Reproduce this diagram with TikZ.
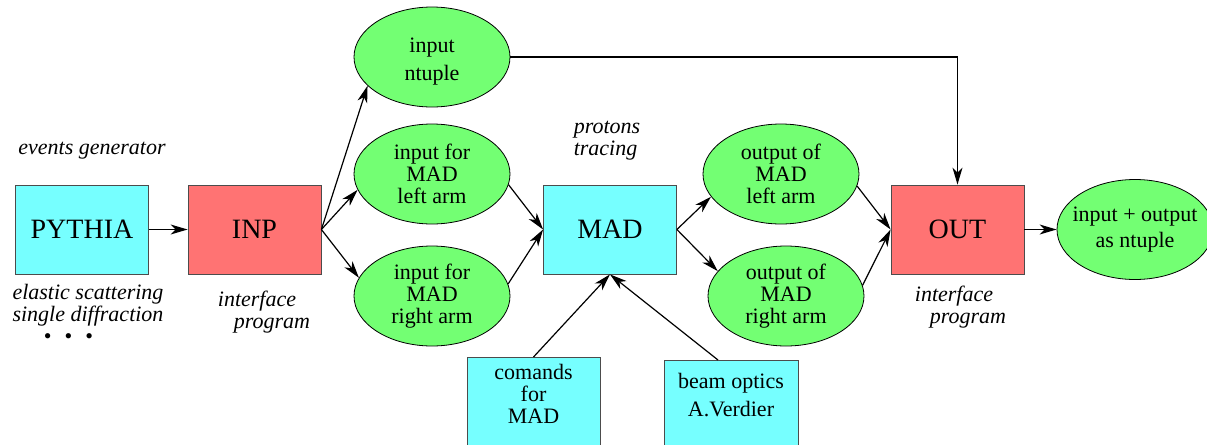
\documentclass[tikz,border=0pt]{standalone}
\usepackage{fontspec}
\setmainfont{Liberation Serif}
\usetikzlibrary{shapes.geometric,arrows.meta}
\definecolor{boxcyan}{RGB}{118,255,255}
\definecolor{boxred}{RGB}{255,115,115}
\definecolor{ellgreen}{RGB}{115,255,115}
\tikzstyle{arrow} = [semithick,-{Stealth[length=8.5pt,width=5pt,inset=2.5pt]}]
\tikzset{
 blk/.style
  = {rectangle, draw=black!70, fill=boxcyan, minimum width=66.5pt,
     minimum height=44.5pt, font=\fontsize{14}{14}\selectfont},
 ell/.style
  = {ellipse, draw, fill=ellgreen, inner sep=0pt, minimum width=78pt,
     minimum height=50pt, align=center, font=\fontsize{11}{11}\selectfont},
 note/.style
  = {align=center, font=\itshape\fontsize{11}{11}\selectfont},
}

\begin{document}
\begin{tikzpicture}[x=0.5pt, y=-0.5pt]
\useasboundingbox (0,0) rectangle (1207,445);

% Generator and input side
\node[blk] (PYT) at (82,229.5) {PYTHIA};
\node[blk, fill=boxred] (INP) at (254.5,229.5) {INP};

% Ellipses going into MAD
\node[ell, text height=25.5pt] (ntup) at (432,57) {input\\[3pt]ntuple};
\node[ell] (inL) at (432,174) {input for\\MAD\\left arm};
\node[ell] (inR) at (432,296) {input for\\MAD\\right arm};

% Tracing
\node[blk] (MAD) at (610,229.5) {MAD};
\node[blk, anchor=north, font=\fontsize{11}{11}\selectfont, align=center,
      text depth=20pt] (cmd) at (533.5,357) {comands\\for\\MAD};
\node[blk, anchor=north, font=\fontsize{11}{11}\selectfont, align=center,
      text height=24.7pt, text depth=20pt, minimum width=67pt] (beam)
      at (731,360) {beam optics\\[3pt]A.Verdier};

% Ellipses coming out of MAD
\node[ell] (outL) at (781,174) {output of\\MAD\\left arm};
\node[ell] (outR) at (786,296) {output of\\MAD\\right arm};

% Output side
\node[blk, fill=boxred] (OUT) at (957.5,229.5) {OUT};
\node[ell] (io) at (1135,229.5)
  {\makebox[0pt]{input + output}\\[2pt]\makebox[0pt]{as ntuple}};

% Italic notes
\node[note] (gen) at (92,151) {events generator};
\node[note] (proc) at (88,305) {elastic scattering\\single diffraction};
\node[note, font=\fontsize{11}{11}\selectfont] (dots) at (68.5,339)
  {\textbullet\hspace{6.5pt}\textbullet\hspace{6.5pt}\textbullet};
\node[note, align=left] (ifin) at (264,312) {interface\\\hspace*{8pt}program};
\node[note, align=left] (trc) at (607,141) {protons\\tracing};
\node[note, align=left] (ifout) at (960.5,307) {interface\\\hspace*{7.5pt}program};

% Connectors
\draw[arrow] (PYT.east) -- (INP.west);
\draw[arrow] (INP.east) -- (ntup.204);
\draw[arrow] (INP.east) -- (inL.192);
\draw[arrow] (INP.east) -- (inR.166);
\draw[arrow] (inL.352) -- (MAD.west);
\draw[arrow] (inR.9) -- (MAD.west);
\draw[arrow] (cmd.north) -- (MAD.south);
\draw[arrow] ([xshift=-6.5pt]beam.north) -- (MAD.south);
\draw[arrow] (MAD.east) -- (outL.198);
\draw[arrow] (MAD.east) -- (outR.160);
\draw[arrow] (outL.351) -- (OUT.west);
\draw[arrow] (outR.8) -- (OUT.west);
\draw[arrow] (ntup.east) -| (OUT.north);
\draw[arrow] (OUT.east) -- (io.west);

\end{tikzpicture}
\end{document}
